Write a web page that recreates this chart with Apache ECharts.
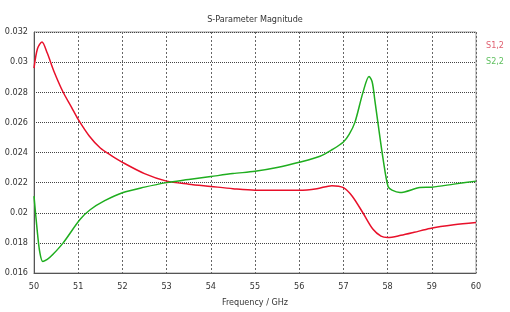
<!DOCTYPE html>
<html>
<head>
<meta charset="utf-8">
<script src="https://cdn.jsdelivr.net/npm/echarts@6/dist/echarts.min.js"></script>
<style>html,body{margin:0;padding:0;background:#fff;}#c{width:510px;height:312px;}</style>
</head>
<body>
<div id="c"></div>
<script>
var titleText = 'S-Parameter Magnitude';
var xName = 'Frequency / GHz';
var seriesNames = ['S1,2', 'S2,2'];

var s12Freq = [50, 50.08, 50.18, 50.3, 50.45, 50.66, 50.85, 51, 51.25, 51.5, 51.75, 52, 52.5, 53, 53.5, 54, 54.5, 55, 55.5, 56, 56.4, 56.74, 57, 57.2, 57.44, 57.67, 57.85, 58, 58.3, 58.6, 58.96, 59.5, 60];
var s12Vals = [0.0296, 0.0309, 0.03134, 0.0306, 0.0294, 0.0280, 0.0270, 0.0262, 0.0251, 0.0243, 0.0238, 0.02335, 0.0226, 0.0221, 0.0219, 0.02175, 0.0216, 0.0215, 0.0215, 0.0215, 0.0216, 0.0218, 0.02167, 0.0211, 0.0200, 0.0189, 0.01845, 0.01836, 0.0185, 0.0187, 0.01896, 0.0192, 0.01935];

var s22Freq = [50, 50.07, 50.13, 50.2, 50.3, 50.43, 50.66, 51.04, 51.27, 51.6, 52, 52.5, 53, 53.5, 54, 54.5, 55, 55.5, 56, 56.47, 56.75, 57, 57.13, 57.26, 57.44, 57.58, 57.65, 57.71, 57.78, 57.9, 58.01, 58.1, 58.28, 58.73, 59, 59.5, 60];
var s22Vals = [0.0211, 0.0189, 0.0174, 0.01677, 0.0169, 0.01724, 0.0180, 0.01955, 0.0202, 0.0208, 0.02133, 0.0217, 0.0220, 0.0222, 0.0224, 0.0226, 0.02275, 0.0230, 0.02335, 0.02375, 0.0242, 0.0247, 0.0252, 0.0260, 0.02796, 0.02905, 0.0287, 0.0275, 0.0260, 0.02353, 0.02174, 0.0215, 0.02134, 0.02167, 0.0217, 0.0219, 0.0221];

function pairs(xs, ys){ return xs.map(function(x,i){ return [x, ys[i]]; }); }

var FONT = '"Liberation Sans Narrow", "DejaVu Sans Condensed", sans-serif';
var chart = echarts.init(document.getElementById('c'), null, {renderer:'canvas'});
chart.setOption({
  animation: false,
  backgroundColor: '#fff',
  title: {
    text: titleText, left: 'center', top: 10,
    textStyle: {fontFamily: FONT, fontSize: 9, fontWeight: 'normal', color: '#333'}
  },
  legend: {
    orient: 'vertical', left: 476, top: 36, itemGap: 7,
    icon: 'rect', itemWidth: 0, itemHeight: 0,
    textStyle: {fontFamily: FONT, fontSize: 9},
    data: [
      {name: seriesNames[0], textStyle: {color: '#e06070'}},
      {name: seriesNames[1], textStyle: {color: '#60c060'}}
    ]
  },
  grid: {left: 34, right: 34, top: 32, bottom: 38, show: true, borderColor: '#999', borderWidth: 1},
  xAxis: {
    type: 'value', min: 50, max: 60, interval: 1,
    name: xName, nameLocation: 'middle', nameGap: 25,
    nameTextStyle: {fontFamily: FONT, fontSize: 9, color: '#333'},
    axisLine: {lineStyle: {color: '#555'}},
    axisTick: {show: false},
    axisLabel: {fontFamily: FONT, fontSize: 9, color: '#333', margin: 9},
    splitLine: {lineStyle: {type: [2, 2], color: '#666'}}
  },
  yAxis: {
    type: 'value', min: 0.016, max: 0.032, interval: 0.002,
    axisLine: {show: true, lineStyle: {color: '#555'}},
    axisTick: {show: false},
    axisLabel: {fontFamily: FONT, fontSize: 9, color: '#333', margin: 6,
      formatter: function(v){ return String(+v.toFixed(3)); }},
    splitLine: {lineStyle: {type: [1, 1], color: '#444'}}
  },
  series: [
    {name: seriesNames[0], type: 'line', data: pairs(s12Freq, s12Vals), smooth: 0.3, showSymbol: false,
     lineStyle: {color: '#e8102a', width: 1.5}, itemStyle: {color: '#e8102a'}},
    {name: seriesNames[1], type: 'line', data: pairs(s22Freq, s22Vals), smooth: 0.3, showSymbol: false,
     lineStyle: {color: '#1fae1f', width: 1.5}, itemStyle: {color: '#1fae1f'}}
  ]
});
</script>
</body>
</html>
